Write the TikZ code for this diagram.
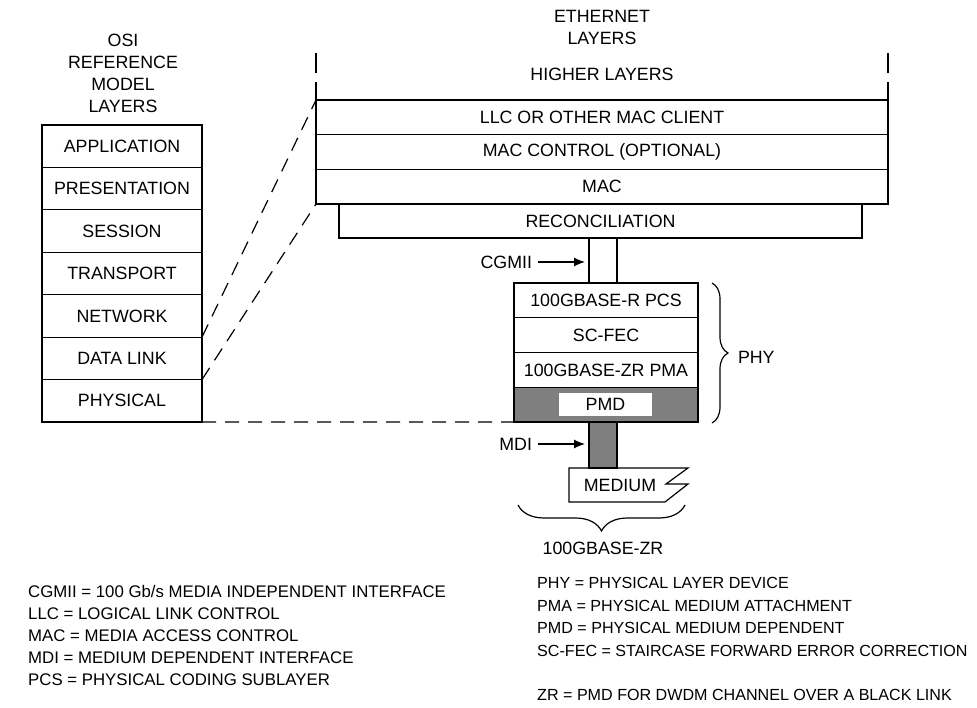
\documentclass[tikz,border=0pt]{standalone}
\usepackage{fontspec}
\setmainfont{Liberation Sans}
\usetikzlibrary{arrows.meta,calc,decorations.pathreplacing}
\definecolor{pmdgray}{HTML}{7F7F7F}

\begin{document}
\begin{tikzpicture}[x=1pt,y=-1pt,
  ln/.style={line width=1.2pt},
  txt/.style={inner sep=0pt,outer sep=0pt,font=\fontsize{17.8}{22}\selectfont},
  layerbox/.style={txt,draw,ln,fill=white},
  osirow/.style={layerbox,minimum width=160,minimum height=42.43,anchor=north},
  ethrow/.style={layerbox,minimum width=572,minimum height=34.67,anchor=north},
  phyrow/.style={layerbox,minimum width=184,minimum height=34.75,anchor=north},
  dashline/.style={ln,dash pattern=on 14pt off 9pt},
  arr/.style={ln,-{Latex[length=11pt,width=9pt]}},
  legend/.style={inner sep=0pt,anchor=west,font=\fontsize{16.8}{18}\selectfont},
  legendr/.style={legend,font=\fontsize{16.1}{18}\selectfont},
  title/.style={txt,align=center}
]
\useasboundingbox (0,0) rectangle (977,708);

% ---------- OSI reference model ----------
\node[title] (osititle) at (123,73.5) {OSI\\REFERENCE\\MODEL\\LAYERS};
\node[osirow] (app) at (122,125) {APPLICATION};
\node[osirow] (pres) at (app.south) {PRESENTATION};
\node[osirow] (sess) at (pres.south) {SESSION};
\node[osirow] (trans) at (sess.south) {TRANSPORT};
\node[osirow] (net) at (trans.south) {NETWORK};
\node[osirow] (dlink) at (net.south) {DATA LINK};
\node[osirow] (phys) at (dlink.south) {PHYSICAL};

% ---------- Ethernet layers ----------
\node[title] (ethtitle) at (602,27.5) {ETHERNET\\LAYERS};
\node[txt] (higher) at (602,74) {HIGHER LAYERS};
\node[ethrow] (llc) at (602,100) {LLC OR OTHER MAC CLIENT};
\node[ethrow] (macctl) at (llc.south) {MAC CONTROL (OPTIONAL)};
\node[ethrow] (mac) at (macctl.south) {MAC};
\node[layerbox,minimum width=523,minimum height=34,anchor=north] (recon) at (600.5,204) {RECONCILIATION};

% open sides of the higher-layers band
\draw[ln] (llc.north west) -- ++(0,-18);
\draw[ln] ($(llc.north west)+(0,-27)$) -- ++(0,-20);
\draw[ln] (llc.north east) -- ++(0,-18);
\draw[ln] ($(llc.north east)+(0,-27)$) -- ++(0,-20);

% ---------- PHY stack ----------
\node[phyrow] (pcs) at (606,283) {100GBASE-R PCS};
\node[phyrow] (fec) at (pcs.south) {SC-FEC};
\node[phyrow] (pma) at (fec.south) {100GBASE-ZR PMA};
\node[phyrow,fill=pmdgray] (pmdrow) at (pma.south) {};
\node[txt,fill=white,minimum width=93,minimum height=23] (pmd) at (605.5,404.5) {PMD};

% CGMII: open channel between reconciliation and PCS
\coordinate (cgl) at (589,238);
\coordinate (cgr) at (617,238);
\draw[ln] (cgl) -- (cgl |- pcs.north);
\draw[ln] (cgr) -- (cgr |- pcs.north);
\node[txt,anchor=east] (cgmii) at (532,262) {CGMII};
\coordinate (cgin) at (585,262);
\draw[arr] ($(cgmii.east)+(6,0)$) -- (cgin);

% MDI: solid connection down to the medium
\node[draw,ln,fill=pmdgray,minimum width=28,minimum height=46,anchor=north,inner sep=0pt,outer sep=0pt] (mdibar) at (603,422) {};
\node[txt,anchor=east] (mdi) at (532,444) {MDI};
\coordinate (mdiin) at (585,444);
\draw[arr] ($(mdi.east)+(6,0)$) -- (mdiin);

% medium with broken right edge
\node[txt] (medium) at (620,485) {MEDIUM};
\draw[ln,line join=miter] (569,468) -- (688,468) -- (666,484) -- (688,484) -- (665,502) -- (569,502) -- cycle;

% braces
\draw[ln,decorate,decoration={brace,amplitude=16pt}] (712,283) -- (712,423);
\node[txt,anchor=west] (phy) at (738,357) {PHY};
\draw[ln,decorate,decoration={brace,mirror,amplitude=26pt}] (518,505) -- (685,505);
\node[txt] (zr) at (603,548) {100GBASE-ZR};

% ---------- mapping between the two models ----------
\draw[dashline] (net.south east) -- (llc.north west);
\draw[dashline] (dlink.south east) -- (mac.south west);
\draw[dashline] (phys.south east) -- (pmdrow.south west);

% ---------- abbreviations ----------
\node[legend] (l1) at (28,591) {CGMII = 100 Gb/s MEDIA INDEPENDENT INTERFACE};
\node[legend] (l2) at (28,613.5) {LLC = LOGICAL LINK CONTROL};
\node[legend] (l3) at (28,636) {MAC = MEDIA ACCESS CONTROL};
\node[legend] (l4) at (28,658) {MDI = MEDIUM DEPENDENT INTERFACE};
\node[legend] (l5) at (28,680) {PCS = PHYSICAL CODING SUBLAYER};
\node[legendr] (r1) at (537,583) {PHY = PHYSICAL LAYER DEVICE};
\node[legendr] (r2) at (537,605.5) {PMA = PHYSICAL MEDIUM ATTACHMENT};
\node[legendr] (r3) at (537,628) {PMD = PHYSICAL MEDIUM DEPENDENT};
\node[legendr] (r4) at (537,650.5) {SC-FEC = STAIRCASE FORWARD ERROR CORRECTION};
\node[legendr] (r5) at (537,695) {ZR = PMD FOR DWDM CHANNEL OVER A BLACK LINK};
\end{tikzpicture}
\end{document}
